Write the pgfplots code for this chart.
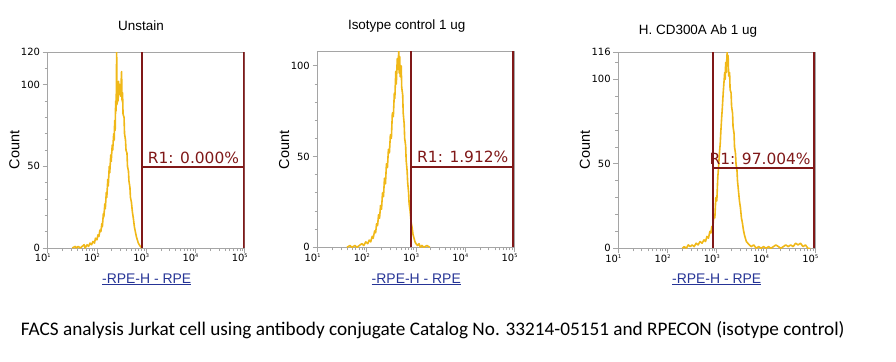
\documentclass[border=0pt]{standalone}
\usepackage{fontspec}
\setmainfont{Liberation Sans}
\newfontfamily\dejavu{DejaVu Sans}
\newfontfamily\carlito{Carlito}
\usepackage{pgfplots}
\pgfplotsset{compat=1.18}

\definecolor{histc}{RGB}{240,184,24}
\definecolor{gatec}{RGB}{128,24,24}
\definecolor{axc}{RGB}{165,165,165}
\definecolor{labc}{RGB}{38,52,150}

\newcommand{\ex}[1]{10\raisebox{0.75ex}{\fontsize{5}{5}\selectfont #1}}

\pgfplotsset{facs/.style={
  scale only axis, width=197bp, height=196bp, anchor=south west,
  xmin=1, xmax=5, ymin=0,
  axis line style={axc, line width=0.8bp},
  every tick/.style={axc, line width=0.8bp},
  tick align=outside, major tick length=5bp, minor tick length=3bp,
  xtick pos=bottom, ytick pos=left,
  xtick={1,2,3,4,5},
  xticklabels={\ex{1},\ex{2},\ex{3},\ex{4},\ex{5}},
  minor xtick={1.301,1.477,1.602,1.699,1.778,1.845,1.903,1.954,
               2.301,2.477,2.602,2.699,2.778,2.845,2.903,2.954,
               3.301,3.477,3.602,3.699,3.778,3.845,3.903,3.954,
               4.301,4.477,4.602,4.699,4.778,4.845,4.903,4.954},
  minor ytick={10,20,30,40,60,70,80,90,110},
  xticklabel style={font=\dejavu\fontsize{10}{10}\selectfont, anchor=north, xshift=-5bp, inner sep=1bp},
  yticklabel style={font=\dejavu\fontsize{10}{10}\selectfont, anchor=east, inner sep=2.5bp},
  /pgf/number format/assume math mode=true,
  clip=true,
}}
\tikzset{
  fcurve/.style={histc, line width=1.6bp, line join=round, no markers},
  fgate/.style={gatec, line width=1.8bp, no markers},
  glab/.style={gatec, anchor=base east, inner sep=0pt, font=\dejavu\fontsize{15.5}{15.5}\selectfont},
  ttl/.style={anchor=base, font=\fontsize{13.5}{13.5}\selectfont},
  cnt/.style={anchor=base, rotate=90, font=\fontsize{14.5}{14.5}\selectfont},
  xl/.style={anchor=base, labc, font=\fontsize{14}{14}\selectfont},
}

\begin{document}
\begin{tikzpicture}
\useasboundingbox (0,0) rectangle (896bp,-362bp);

% ---------------- Panel 1 ----------------
\begin{axis}[facs, at={(47.7bp,-248bp)}, ymax=120, ytick={0,50,100,120}]
\addplot[fcurve] coordinates {
(1.50,0) (1.56,1) (1.58,0) (1.62,1) (1.66,0) (1.70,1) (1.74,2) (1.76,0) (1.80,2) (1.83,1)
(1.86,3) (1.89,2) (1.92,4) (1.95,3) (1.97,6) (2.00,5) (2.02,8) (2.04,7) (2.06,11) (2.08,10)
(2.10,15) (2.11,13) (2.13,21) (2.14,19) (2.16,27) (2.17,24) (2.19,34) (2.20,31) (2.22,42) (2.23,38)
(2.25,50) (2.26,46) (2.28,57) (2.29,53) (2.31,63) (2.32,60) (2.34,70) (2.35,66) (2.36,78) (2.37,72)
(2.38,90) (2.39,84) (2.40,120) (2.41,88) (2.42,96) (2.43,90) (2.44,102) (2.45,94) (2.47,100) (2.48,93)
(2.50,108) (2.51,90) (2.52,95) (2.53,82) (2.55,80) (2.56,70) (2.58,66) (2.59,60) (2.61,58) (2.62,50)
(2.64,47) (2.65,41) (2.67,37) (2.68,31) (2.70,28) (2.72,22) (2.74,18) (2.76,13) (2.78,10) (2.80,7)
(2.82,5) (2.84,3) (2.86,2) (2.88,1) (2.92,0)};
\addplot[fgate] coordinates {(2.92,0) (2.92,120)};
\addplot[fgate] coordinates {(4.99,0) (4.99,120)};
\addplot[fgate] coordinates {(2.92,49.5) (4.99,49.5)};
\node[glab] at (axis cs:4.89,52) {R1: 0.000\%};
\end{axis}

% ---------------- Panel 2 ----------------
\begin{axis}[facs, at={(317.5bp,-247.3bp)}, ymax=108, ytick={0,50,100}]
\addplot[fcurve] coordinates {
(1.60,0) (1.66,1) (1.70,0) (1.76,1) (1.80,0) (1.85,1) (1.90,2) (1.94,1) (1.98,3) (2.02,2)
(2.05,4) (2.08,3) (2.11,6) (2.13,5) (2.16,9) (2.18,8) (2.20,13) (2.22,12) (2.24,18) (2.26,16)
(2.28,23) (2.30,21) (2.32,30) (2.34,28) (2.36,38) (2.38,35) (2.40,46) (2.42,44) (2.44,54) (2.46,52)
(2.48,62) (2.50,60) (2.52,74) (2.54,72) (2.56,85) (2.57,82) (2.59,97) (2.60,90) (2.62,104) (2.63,98)
(2.65,108) (2.66,96) (2.67,105) (2.68,94) (2.70,100) (2.71,88) (2.73,84) (2.74,74) (2.76,68) (2.77,60)
(2.79,56) (2.80,48) (2.82,42) (2.83,36) (2.85,30) (2.86,24) (2.88,20) (2.90,14) (2.92,11) (2.94,7)
(2.96,5) (2.98,3) (3.00,2) (3.03,1) (3.06,2) (3.09,0) (3.12,1) (3.16,0) (3.22,1) (3.28,0)};
\addplot[fgate] coordinates {(2.905,0) (2.905,108)};
\addplot[fgate] coordinates {(4.97,0) (4.97,108)};
\addplot[fgate] coordinates {(2.905,44.4) (4.97,44.4)};
\node[glab] at (axis cs:4.88,46.6) {R1: 1.912\%};
\end{axis}

% ---------------- Panel 3 ----------------
\begin{axis}[facs, at={(618.3bp,-248.3bp)}, ymax=116, ytick={0,50,100,116}]
\addplot[fcurve] coordinates {
(2.30,0) (2.34,1) (2.38,0) (2.42,2) (2.46,1) (2.50,2) (2.54,1) (2.58,3) (2.62,2) (2.66,4)
(2.70,3) (2.74,5) (2.77,4) (2.80,7) (2.83,6) (2.86,10) (2.88,9) (2.90,13) (2.92,12) (2.94,20)
(2.96,18) (2.98,30) (3.00,28) (3.02,42) (3.04,50) (3.05,55) (3.07,62) (3.08,68) (3.10,78) (3.11,82)
(3.13,92) (3.14,96) (3.16,104) (3.17,100) (3.18,110) (3.19,104) (3.21,116) (3.22,108) (3.23,114) (3.24,102)
(3.26,104) (3.27,94) (3.29,92) (3.30,84) (3.32,80) (3.33,72) (3.35,68) (3.36,60) (3.38,56) (3.39,50)
(3.41,46) (3.42,40) (3.44,34) (3.46,28) (3.48,24) (3.50,18) (3.52,15) (3.54,11) (3.56,8) (3.58,6)
(3.60,4) (3.63,3) (3.66,2) (3.70,1) (3.75,2) (3.80,0) (3.85,1) (3.90,0) (3.95,1) (4.00,0)
(4.05,1) (4.10,0) (4.15,1) (4.20,2) (4.25,1) (4.30,0) (4.35,1) (4.40,2) (4.45,1) (4.50,2)
(4.55,1) (4.60,3) (4.65,2) (4.70,3) (4.75,1) (4.80,2) (4.85,0) (4.90,0)};
\addplot[fgate] coordinates {(2.92,0) (2.92,116)};
\addplot[fgate] coordinates {(4.98,0) (4.98,116)};
\addplot[fgate] coordinates {(2.92,47.4) (4.98,47.4)};
\node[glab] at (axis cs:4.91,49.8) {R1: 97.004\%};
\end{axis}

% titles
\node[ttl] at (141bp,-30bp) {Unstain};
\node[ttl] at (406.7bp,-29.3bp) {Isotype control 1 ug};
\node[ttl] at (698bp,-34bp) {H. CD300A Ab 1 ug};
% y labels
\node[cnt] at (19.3bp,-150bp) {Count};
\node[cnt] at (289.1bp,-150bp) {Count};
\node[cnt] at (589.9bp,-150bp) {Count};
% x labels
\node[xl] at (146.7bp,-283.3bp) {\underline{-RPE-H - RPE}};
\node[xl] at (416.3bp,-283.3bp) {\underline{-RPE-H - RPE}};
\node[xl] at (716.7bp,-283.3bp) {\underline{-RPE-H - RPE}};
% caption
\node[anchor=base west, inner sep=0pt, font=\carlito\fontsize{19.3}{19.3}\selectfont] at (20.7bp,-335bp)
  {FACS analysis Jurkat cell using antibody conjugate Catalog No. 33214-05151 and RPECON (isotype control)};
\end{tikzpicture}
\end{document}
